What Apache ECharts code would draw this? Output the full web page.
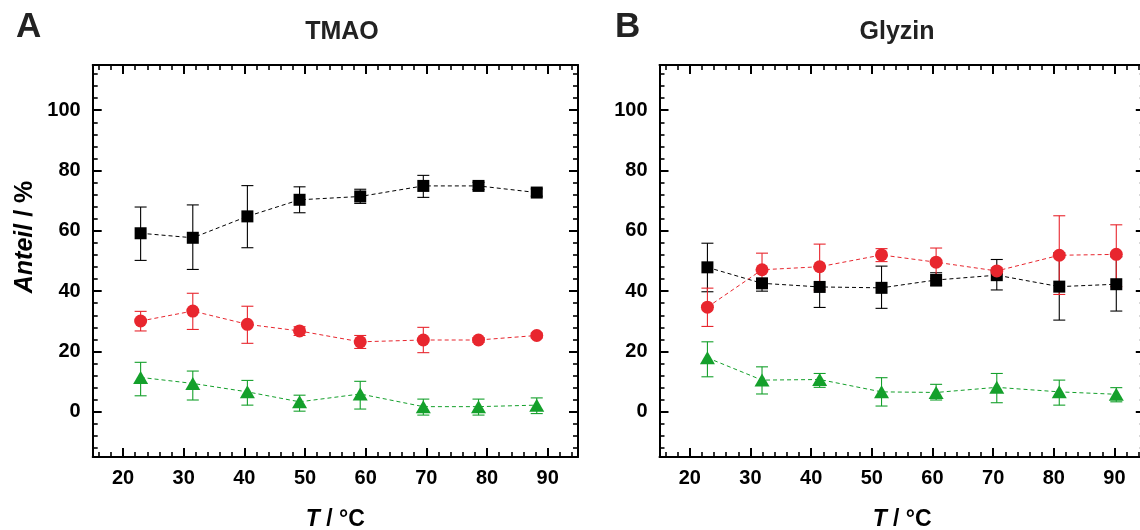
<!DOCTYPE html>
<html>
<head>
<meta charset="utf-8">
<script src="https://cdn.jsdelivr.net/npm/echarts@6/dist/echarts.min.js"></script>
<style>
html,body{margin:0;padding:0;background:#fff;}
#chart{width:1140px;height:530px;}
</style>
</head>
<body>
<div id="chart"></div>
<script>
// ---- data ----
const panelTitles = ['TMAO', 'Glyzin'];
const panelLetters = ['A', 'B'];
const xTicks = [20, 30, 40, 50, 60, 70, 80, 90];
const xMinor = [16, 18, 22, 24, 26, 28, 32, 34, 36, 38, 42, 44, 46, 48, 52, 54, 56, 58, 62, 64, 66, 68, 72, 74, 76, 78, 82, 84, 86, 88, 92, 94];
const yTicks = [0, 20, 40, 60, 80, 100];
const yMinor = [-12, -8, -4, 4, 8, 12, 16, 24, 28, 32, 36, 44, 48, 52, 56, 64, 68, 72, 76, 84, 88, 92, 96, 104, 108, 112];

// Panel A: TMAO
const tempA = [22.9, 31.5, 40.5, 49.1, 59.1, 69.5, 78.6, 88.2];
const blackA = [59.2, 57.7, 64.8, 70.3, 71.4, 74.9, 74.9, 72.7];
const blackALo = [50.2, 47.2, 54.4, 66.0, 69.1, 71.1, 73.7, 71.5];
const blackAHi = [67.9, 68.6, 75.0, 74.6, 73.8, 78.4, 76.1, 73.9];
const redA = [30.1, 33.4, 29.0, 26.8, 23.2, 23.8, 23.8, 25.3];
const redALo = [26.8, 27.3, 22.7, 25.3, 21.0, 19.6, 23.0, 24.5];
const redAHi = [33.3, 39.3, 35.0, 28.2, 25.3, 28.0, 24.6, 26.1];
const greenA = [11.4, 9.4, 6.6, 3.3, 5.9, 1.7, 1.7, 2.2];
const greenALo = [5.3, 3.9, 2.2, 0.2, 0.9, -1.1, -1.1, -0.6];
const greenAHi = [16.4, 13.5, 10.4, 5.5, 10.1, 4.2, 4.2, 4.6];

// Panel B: Glyzin
const tempB = [22.9, 31.9, 41.4, 51.6, 60.6, 70.6, 80.9, 90.3];
const blackB = [47.9, 42.6, 41.4, 41.1, 43.7, 45.3, 41.5, 42.3];
const blackBLo = [39.8, 40.0, 34.6, 34.3, 41.7, 40.4, 30.4, 33.4];
const blackBHi = [55.9, 43.7, 48.1, 48.3, 46.1, 50.5, 52.7, 51.4];
const redB = [34.7, 47.1, 48.1, 52.0, 49.6, 46.7, 51.9, 52.2];
const redBLo = [28.3, 41.5, 40.4, 49.8, 44.2, 45.7, 38.9, 41.5];
const redBHi = [41.0, 52.6, 55.6, 54.1, 54.3, 47.7, 65.0, 62.0];
const greenB = [17.9, 10.5, 10.7, 6.6, 6.4, 8.1, 6.6, 5.8];
const greenBLo = [11.6, 5.9, 8.1, 1.9, 3.9, 3.0, 2.2, 3.3];
const greenBHi = [23.2, 14.9, 12.7, 11.3, 9.1, 12.7, 10.5, 8.0];

// ---- styling ----
const FONT = '"Liberation Sans", Arial, Helvetica, sans-serif';
const BLACK = '#000000', RED = '#e8262e', GREEN = '#14a02b';
const X_MIN = 15, X_MAX = 95, Y_MIN = -15, Y_MAX = 115;

const grids = [
  { left: 92.7, top: 65, width: 485.3, height: 392, outerBoundsMode: 'none', containLabel: false },
  { left: 659.5, top: 65, width: 485.3, height: 392, outerBoundsMode: 'none', containLabel: false }
];

const xAxes = [], yAxes = [];
grids.forEach((g, gi) => {
  const baseLine = { onZero: false, lineStyle: { color: '#000', width: 2 } };
  const noLine = { show: false, onZero: false };
  const majTick = (vals) => ({ show: true, inside: true, length: 9, customValues: vals, lineStyle: { color: '#000', width: 2 } });
  const minTick = (vals) => ({ show: true, inside: true, length: 5, customValues: vals, lineStyle: { color: '#000', width: 1.6 } });
  const common = { gridIndex: gi, type: 'value', splitLine: { show: false } };
  xAxes.push(Object.assign({}, common, {
    min: X_MIN, max: X_MAX, position: 'bottom', axisLine: baseLine,
    axisTick: majTick(xTicks),
    axisLabel: { customValues: xTicks, margin: 11, color: '#000', fontSize: 20, fontWeight: 'bold', fontFamily: FONT },
    name: '{i|T}{n| / °C}', nameLocation: 'middle', nameGap: 51,
    nameTextStyle: { rich: {
      i: { fontStyle: 'italic', fontWeight: 'bold', fontSize: 23, fontFamily: FONT, color: '#000' },
      n: { fontWeight: 'bold', fontSize: 23, fontFamily: FONT, color: '#000' } } }
  }));
  xAxes.push(Object.assign({}, common, { min: X_MIN, max: X_MAX, position: 'bottom', axisLine: noLine, axisTick: minTick(xMinor), axisLabel: { show: false } }));
  xAxes.push(Object.assign({}, common, { min: X_MIN, max: X_MAX, position: 'top', axisLine: baseLine, axisTick: majTick(xTicks), axisLabel: { show: false } }));
  xAxes.push(Object.assign({}, common, { min: X_MIN, max: X_MAX, position: 'top', axisLine: noLine, axisTick: minTick(xMinor), axisLabel: { show: false } }));

  yAxes.push(Object.assign({}, common, {
    min: Y_MIN, max: Y_MAX, position: 'left', axisLine: baseLine,
    axisTick: majTick(yTicks),
    axisLabel: { customValues: yTicks, margin: 12, color: '#000', fontSize: 20, fontWeight: 'bold', fontFamily: FONT }
  }));
  yAxes.push(Object.assign({}, common, { min: Y_MIN, max: Y_MAX, position: 'left', axisLine: noLine, axisTick: minTick(yMinor), axisLabel: { show: false } }));
  yAxes.push(Object.assign({}, common, { min: Y_MIN, max: Y_MAX, position: 'right', axisLine: baseLine, axisTick: majTick(yTicks), axisLabel: { show: false } }));
  yAxes.push(Object.assign({}, common, { min: Y_MIN, max: Y_MAX, position: 'right', axisLine: noLine, axisTick: minTick(yMinor), axisLabel: { show: false } }));
});

function errorSeries(axisIdx, temps, lo, hi, color) {
  return {
    type: 'custom',
    xAxisIndex: axisIdx, yAxisIndex: axisIdx,
    silent: true,
    encode: { x: 0, y: [1, 2] },
    data: temps.map((t, i) => [t, lo[i], hi[i]]),
    renderItem: function (params, api) {
      const x = api.value(0);
      const pLo = api.coord([x, api.value(1)]);
      const pHi = api.coord([x, api.value(2)]);
      const hw = 6;
      const st = { stroke: color, lineWidth: 1.1 };
      return {
        type: 'group',
        children: [
          { type: 'line', shape: { x1: pLo[0], y1: pLo[1], x2: pHi[0], y2: pHi[1] }, style: st },
          { type: 'line', shape: { x1: pLo[0] - hw, y1: pLo[1], x2: pLo[0] + hw, y2: pLo[1] }, style: st },
          { type: 'line', shape: { x1: pHi[0] - hw, y1: pHi[1], x2: pHi[0] + hw, y2: pHi[1] }, style: st }
        ]
      };
    }
  };
}

function lineSeries(axisIdx, temps, vals, color, symbol, size) {
  return {
    type: 'line',
    xAxisIndex: axisIdx, yAxisIndex: axisIdx,
    data: temps.map((t, i) => [t, vals[i]]),
    symbol: symbol, symbolSize: size,
    itemStyle: { color: color, borderWidth: 0 },
    lineStyle: { color: color, width: 1, type: [4, 3] },
    silent: true
  };
}

const series = [];
const panels = [
  { idx: 0, t: tempA, sets: [[blackA, blackALo, blackAHi, BLACK, 'rect', 12], [redA, redALo, redAHi, RED, 'circle', 13], [greenA, greenALo, greenAHi, GREEN, 'triangle', [15, 13]]] },
  { idx: 4, t: tempB, sets: [[blackB, blackBLo, blackBHi, BLACK, 'rect', 12], [redB, redBLo, redBHi, RED, 'circle', 13], [greenB, greenBLo, greenBHi, GREEN, 'triangle', [15, 13]]] }
];
panels.forEach(p => {
  p.sets.forEach(s => {
    series.push(errorSeries(p.idx, p.t, s[1], s[2], s[3]));
    series.push(lineSeries(p.idx, p.t, s[0], s[3], s[4], s[5]));
  });
});

const titleStyle = { fontFamily: FONT, fontWeight: 'bold', fontSize: 25, color: '#222' };
const letterStyle = { fontFamily: FONT, fontWeight: 'bold', fontSize: 35, color: '#222' };

const option = {
  animation: false,
  backgroundColor: '#fff',
  title: [
    { text: panelLetters[0], left: 11, top: 5, textStyle: letterStyle },
    { text: panelTitles[0], left: 337, top: 15, textAlign: 'center', textStyle: titleStyle },
    { text: panelLetters[1], left: 610, top: 5, textStyle: letterStyle },
    { text: panelTitles[1], left: 892, top: 15, textAlign: 'center', textStyle: titleStyle }
  ],
  grid: grids,
  xAxis: xAxes,
  yAxis: yAxes,
  series: series,
  graphic: [{
    type: 'text',
    x: 25, y: 237,
    rotation: Math.PI / 2,
    style: {
      text: '{i|Anteil}{n| / %}',
      align: 'center', verticalAlign: 'middle',
      rich: {
        i: { fontStyle: 'italic', fontWeight: 'bold', fontSize: 25, fontFamily: FONT, fill: '#000' },
        n: { fontWeight: 'bold', fontSize: 25, fontFamily: FONT, fill: '#000' }
      }
    }
  }]
};

const chart = echarts.init(document.getElementById('chart'), null, { renderer: 'canvas' });
chart.setOption(option);
</script>
</body>
</html>
